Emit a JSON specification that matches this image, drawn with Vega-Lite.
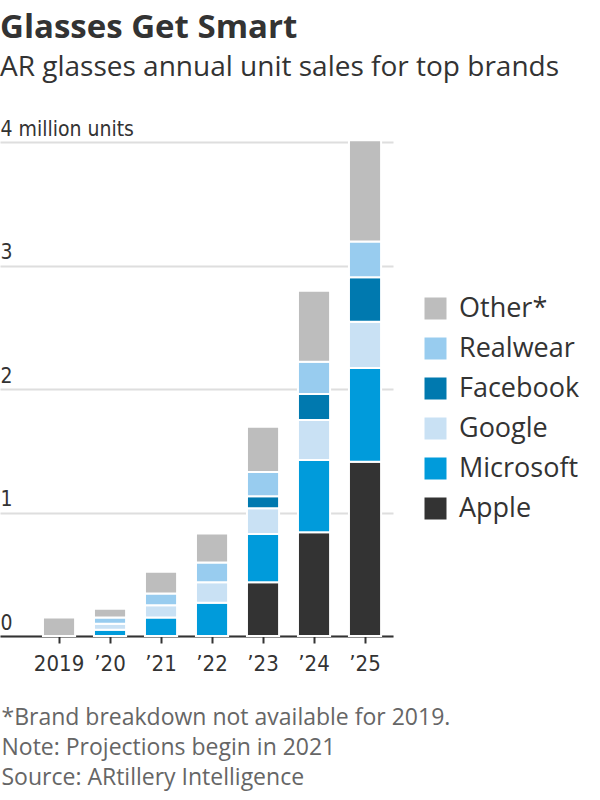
{
  "$schema": "https://vega.github.io/schema/vega-lite/v6.json",
  "autosize": {"type": "none"},
  "padding": {"left": 0, "top": 142, "right": 207, "bottom": 164},
  "width": 393,
  "height": 494,
  "background": "white",
  "title": {
    "text": "Glasses Get Smart",
    "subtitle": "AR glasses annual unit sales for top brands",
    "anchor": "start",
    "frame": "group",
    "font": "Open Sans",
    "fontSize": 33,
    "fontWeight": "bold",
    "color": "#333333",
    "subtitleFont": "Open Sans",
    "subtitleFontSize": 28,
    "subtitleColor": "#333333",
    "subtitlePadding": 9,
    "offset": 36
  },
  "data": {
    "values": [
      {"year": "2019", "brand": "Other", "units": 0.15, "rank": 6},
      {"year": "’20", "brand": "Microsoft", "units": 0.05, "rank": 2},
      {"year": "’20", "brand": "Google", "units": 0.05, "rank": 3},
      {"year": "’20", "brand": "Realwear", "units": 0.05, "rank": 5},
      {"year": "’20", "brand": "Other", "units": 0.07, "rank": 6},
      {"year": "’21", "brand": "Microsoft", "units": 0.15, "rank": 2},
      {"year": "’21", "brand": "Google", "units": 0.1, "rank": 3},
      {"year": "’21", "brand": "Realwear", "units": 0.095, "rank": 5},
      {"year": "’21", "brand": "Other", "units": 0.175, "rank": 6},
      {"year": "’22", "brand": "Microsoft", "units": 0.27, "rank": 2},
      {"year": "’22", "brand": "Google", "units": 0.165, "rank": 3},
      {"year": "’22", "brand": "Realwear", "units": 0.16, "rank": 5},
      {"year": "’22", "brand": "Other", "units": 0.235, "rank": 6},
      {"year": "’23", "brand": "Apple", "units": 0.435, "rank": 1},
      {"year": "’23", "brand": "Microsoft", "units": 0.39, "rank": 2},
      {"year": "’23", "brand": "Google", "units": 0.21, "rank": 3},
      {"year": "’23", "brand": "Facebook", "units": 0.097, "rank": 4},
      {"year": "’23", "brand": "Realwear", "units": 0.195, "rank": 5},
      {"year": "’23", "brand": "Other", "units": 0.368, "rank": 6},
      {"year": "’24", "brand": "Apple", "units": 0.84, "rank": 1},
      {"year": "’24", "brand": "Microsoft", "units": 0.585, "rank": 2},
      {"year": "’24", "brand": "Google", "units": 0.325, "rank": 3},
      {"year": "’24", "brand": "Facebook", "units": 0.21, "rank": 4},
      {"year": "’24", "brand": "Realwear", "units": 0.26, "rank": 5},
      {"year": "’24", "brand": "Other", "units": 0.575, "rank": 6},
      {"year": "’25", "brand": "Apple", "units": 1.41, "rank": 1},
      {"year": "’25", "brand": "Microsoft", "units": 0.76, "rank": 2},
      {"year": "’25", "brand": "Google", "units": 0.375, "rank": 3},
      {"year": "’25", "brand": "Facebook", "units": 0.36, "rank": 4},
      {"year": "’25", "brand": "Realwear", "units": 0.29, "rank": 5},
      {"year": "’25", "brand": "Other", "units": 0.82, "rank": 6}
    ]
  },
  "mark": {"type": "bar", "stroke": "white", "strokeWidth": 2},
  "encoding": {
    "x": {
      "field": "year",
      "type": "nominal",
      "sort": null,
      "scale": {"paddingInner": 0.37, "paddingOuter": 0.538, "align": 0.783},
      "axis": {
        "title": ["*Brand breakdown not available for 2019.", "Note: Projections begin in 2021", "Source: ARtillery Intelligence"],
        "titleFont": "Open Sans",
        "titleFontSize": 23,
        "titleFontWeight": "normal",
        "titleColor": "#666666",
        "titleAnchor": "start",
        "titleAlign": "left",
        "titleBaseline": "alphabetic",
        "titleX": 1,
        "titleY": 88,
        "titleLineHeight": 30,
        "labelAngle": 0,
        "labelFont": "DejaVu Sans Condensed",
        "labelFontSize": 22,
        "labelColor": "#333333",
        "labelPadding": 10,
        "domainColor": "#333333",
        "domainWidth": 2,
        "tickColor": "#333333",
        "tickWidth": 2,
        "tickSize": 7,
        "grid": false
      }
    },
    "y": {
      "field": "units",
      "type": "quantitative",
      "stack": "zero",
      "scale": {"domain": [0, 4], "nice": false},
      "axis": {
        "title": null,
        "values": [0, 1, 2, 3, 4],
        "labelExpr": "datum.value == 4 ? '4 million units' : datum.label",
        "labelAlign": "left",
        "labelBaseline": "alphabetic",
        "labelOffset": -7,
        "labelPadding": 0,
        "labelFont": "DejaVu Sans Condensed",
        "labelFontSize": 21,
        "labelColor": "#333333",
        "ticks": false,
        "tickSize": 0,
        "domain": false,
        "grid": true,
        "gridColor": "#dedede",
        "gridWidth": 2
      }
    },
    "color": {
      "field": "brand",
      "type": "nominal",
      "scale": {
        "domain": ["Other", "Realwear", "Facebook", "Google", "Microsoft", "Apple"],
        "range": ["#bdbdbd", "#98ccef", "#0079af", "#c9e1f4", "#009bdb", "#333333"]
      },
      "legend": {
        "title": null,
        "orient": "none",
        "legendX": 422,
        "legendY": 153,
        "symbolType": "square",
        "symbolSize": 484,
        "symbolStrokeWidth": 0,
        "labelFont": "Open Sans",
        "labelFontSize": 27,
        "labelColor": "#333333",
        "labelOffset": 10,
        "rowPadding": 12,
        "labelExpr": "datum.label == 'Other' ? 'Other*' : datum.label"
      }
    },
    "order": {"field": "rank", "type": "quantitative"}
  },
  "config": {"view": {"stroke": null}}
}
